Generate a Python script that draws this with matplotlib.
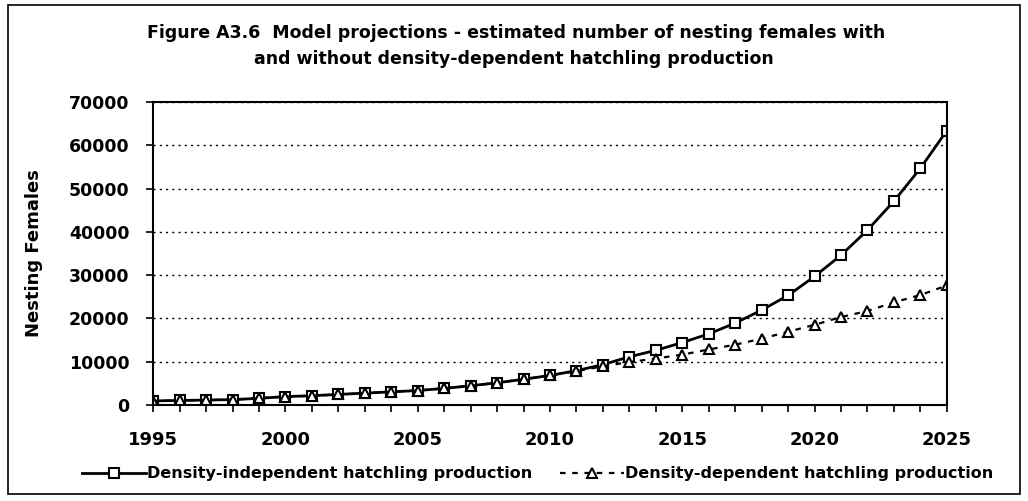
import matplotlib.pyplot as plt
from matplotlib.patches import Rectangle
from matplotlib.ticker import MultipleLocator

plt.rcParams['font.family'] = ['DejaVu Sans']
plt.rcParams['font.weight'] = 'bold'

# Data
years = list(range(1995, 2026))
independent = [900, 1000, 1100, 1200, 1500, 1900, 2100, 2400, 2700, 3000,
               3300, 3800, 4400, 5100, 5900, 6800, 7900, 9300, 11100, 12600,
               14400, 16400, 18900, 21900, 25300, 29700, 34600, 40400, 47100, 54700, 63400]
dependent = [900, 1000, 1100, 1200, 1500, 1900, 2100, 2400, 2700, 3000,
             3300, 3800, 4400, 5100, 5900, 6800, 7800, 8900, 9900, 10700,
             11600, 12800, 13900, 15300, 16900, 18500, 20300, 21700, 23700, 25400, 27600]

fig = plt.figure(figsize=(10.28, 5.01), dpi=100)
ax = fig.add_axes([0.149, 0.192, 0.772, 0.604])

# outer frame round the whole chart
fig.patches.append(Rectangle((0.008, 0.014), 0.984, 0.976, transform=fig.transFigure,
                             fill=False, edgecolor='black', linewidth=1.2))

ax.plot(years, independent, color='black', lw=2, marker='s', markersize=7.5,
        markerfacecolor='white', markeredgecolor='black', markeredgewidth=1.5,
        label='Density-independent hatchling production')
ax.plot(years, dependent, color='black', lw=1.6, linestyle=(0, (2.5, 3)), marker='^',
        markersize=7, markerfacecolor='white', markeredgecolor='black', markeredgewidth=1.5,
        label='Density-dependent hatchling production')

ax.set_xlim(1995, 2025)
ax.set_ylim(0, 70000)
ax.xaxis.set_major_locator(MultipleLocator(5))
ax.xaxis.set_minor_locator(MultipleLocator(1))
ax.yaxis.set_major_locator(MultipleLocator(10000))
ax.tick_params(axis='x', which='both', direction='out', length=5, width=1.2, pad=14, labelsize=13)
ax.tick_params(axis='y', direction='out', length=5, width=1.2, pad=12, labelsize=12.5)
for lbl in ax.get_xticklabels() + ax.get_yticklabels():
    lbl.set_fontweight('bold')

ax.grid(axis='y', linestyle=(0, (1.5, 3)), color='black', linewidth=1)
for s in ax.spines.values():
    s.set_linewidth(1.5)

ax.set_ylabel('Nesting Females', fontsize=13, fontweight='bold')
ax.yaxis.set_label_coords(-0.139, 0.5)

fig.text(0.502, 0.934, 'Figure A3.6  Model projections - estimated number of nesting females with',
         ha='center', va='center', fontsize=12.5, fontweight='bold')
fig.text(0.5, 0.882, 'and without density-dependent hatchling production',
         ha='center', va='center', fontsize=12.5, fontweight='bold')

fig.legend(loc='center', bbox_to_anchor=(0.523, 0.054), ncol=2, frameon=False,
           prop={'weight': 'bold', 'size': 11.5}, handlelength=4, columnspacing=1.7,
           handletextpad=0.1, borderpad=0, borderaxespad=0)

fig.savefig('out.png', dpi=100)
